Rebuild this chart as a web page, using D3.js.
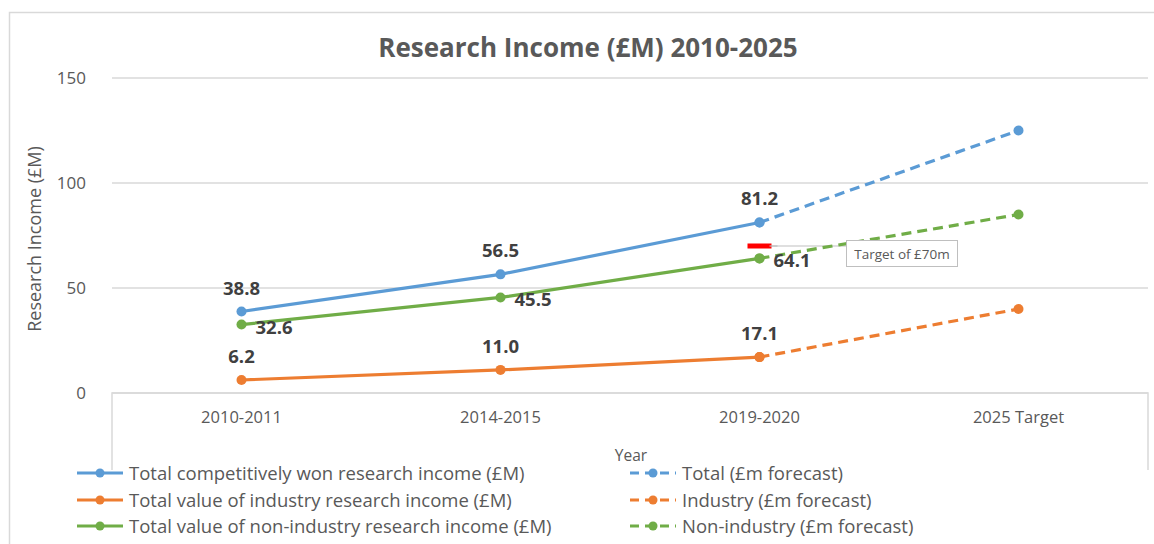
<!DOCTYPE html>
<html><head><meta charset="utf-8">
<script src="https://cdn.jsdelivr.net/npm/d3@7"></script>
<style>body{margin:0;background:#fff}svg{display:block}text{font-family:"Open Sans",sans-serif}</style>
</head><body><svg id="c" width="1154" height="544"></svg>
<script>
const categories = ["2010-2011","2014-2015","2019-2020","2025 Target"];
const totalIncome = [38.8, 56.5, 81.2, null];
const industryIncome = [6.2, 11.0, 17.1, null];
const nonIndustryIncome = [32.6, 45.5, 64.1, null];
const totalForecast = [null, null, 81.2, 125];
const industryForecast = [null, null, 17.1, 40];
const nonIndustryForecast = [null, null, 64.1, 85];
const yTicks = [0, 50, 100, 150];
const targetValue = 70;
const targetCategory = "2019-2020";

const svg = d3.select("#c");
const L = 112, R = 1148, T = 78, B = 393;
const x = d3.scaleBand().domain(categories).range([L, R]);
const y = d3.scaleLinear().domain([0, 150]).range([B, T]);
const cx = c => x(c) + x.bandwidth() / 2;

// outer chart border
svg.append("path").attr("d", `M9.5,544V12.5H1160`).attr("fill","none").attr("stroke","#d9d9d9").attr("stroke-width",1.5);

// title
svg.append("text").attr("x", 588).attr("y", 57).attr("text-anchor","middle")
  .attr("font-size", 26).attr("font-weight","bold").attr("fill","#595959")
  .text("Research Income (£M) 2010-2025");

// gridlines
svg.append("g").selectAll("line").data(yTicks).join("line")
  .attr("x1", L).attr("x2", R).attr("y1", d => y(d)).attr("y2", d => y(d))
  .attr("stroke", "#d9d9d9").attr("stroke-width", 1.5);

// y axis labels
const yAxis = d3.axisLeft(y).tickValues(yTicks).tickSize(0).tickPadding(26);
const ya = svg.append("g").attr("transform", `translate(${L},0)`).call(yAxis);
ya.select(".domain").remove();
ya.selectAll("text").attr("font-size", 17).attr("fill", "#595959").attr("font-family","Open Sans");

// y axis title
svg.append("text").attr("transform", "translate(41,239) rotate(-90)").attr("text-anchor","middle")
  .attr("font-size", 18).attr("fill","#595959").text("Research Income (£M)");

// x axis box
svg.append("path").attr("d", `M${L},470V${B}H${R}V470`).attr("fill","none").attr("stroke","#d9d9d9").attr("stroke-width",1.5);
const xAxis = d3.axisBottom(x).tickSize(0).tickPadding(18);
const xa = svg.append("g").attr("transform", `translate(0,${B})`).call(xAxis);
xa.select(".domain").remove();
xa.selectAll("text").attr("font-size", 16.5).attr("fill", "#595959").attr("font-family","Open Sans");

// x axis title
svg.append("text").attr("x", 631).attr("y", 461).attr("text-anchor","middle")
  .attr("font-size", 15.5).attr("fill","#595959").text("Year");

const blue = "#5b9bd5", orange = "#ed7d31", green = "#70ad47";
const series = [
  {vals: totalIncome, color: blue, dash: null},
  {vals: industryIncome, color: orange, dash: null},
  {vals: nonIndustryIncome, color: green, dash: null},
  {vals: totalForecast, color: blue, dash: "10,6"},
  {vals: industryForecast, color: orange, dash: "10,6"},
  {vals: nonIndustryForecast, color: green, dash: "10,6"}
];
const line = d3.line().defined(d => d.v != null).x(d => cx(d.c)).y(d => y(d.v));

// target marker + callout
const tx = cx(targetCategory), ty = y(targetValue);
svg.append("line").attr("x1", tx + 10).attr("x2", 846).attr("y1", ty).attr("y2", ty)
  .attr("stroke", "#bfbfbf").attr("stroke-width", 1.2);

series.forEach(s => {
  const pts = categories.map((c, i) => ({c, v: s.vals[i]}));
  svg.append("path").datum(pts).attr("d", line).attr("fill","none")
    .attr("stroke", s.color).attr("stroke-width", 3.2).attr("stroke-linecap", s.dash ? "butt" : "round")
    .attr("stroke-dasharray", s.dash);
  svg.append("g").selectAll("circle").data(pts.filter(d => d.v != null)).join("circle")
    .attr("cx", d => cx(d.c)).attr("cy", d => y(d.v)).attr("r", 5).attr("fill", s.color);
});

svg.append("rect").attr("x", tx - 12).attr("y", ty - 2.5).attr("width", 24).attr("height", 5).attr("fill", "#ff0000");
svg.append("line").attr("x1", tx + 10).attr("x2", tx + 18).attr("y1", ty).attr("y2", ty)
  .attr("stroke", "#bfbfbf").attr("stroke-width", 1.2);
svg.append("rect").attr("x", 846.5).attr("y", 240.5).attr("width", 111).attr("height", 26)
  .attr("fill","#fff").attr("stroke","#bfbfbf").attr("stroke-width",1);
svg.append("text").attr("x", 902).attr("y", 259).attr("text-anchor","middle")
  .attr("font-size", 13.5).attr("fill","#595959").text("Target of £" + targetValue + "m");

// data labels
const lab = svg.append("g").attr("font-size", 18.5).attr("font-weight","bold").attr("fill","#404040");
categories.forEach((c, i) => {
  if (totalIncome[i] != null) lab.append("text").attr("x", cx(c)).attr("y", y(totalIncome[i]) - 17).attr("text-anchor","middle").text(totalIncome[i].toFixed(1));
  if (industryIncome[i] != null) lab.append("text").attr("x", cx(c)).attr("y", y(industryIncome[i]) - 17).attr("text-anchor","middle").text(industryIncome[i].toFixed(1));
  if (nonIndustryIncome[i] != null) lab.append("text").attr("x", cx(c) + 14).attr("y", y(nonIndustryIncome[i]) + 9).attr("text-anchor","start").text(nonIndustryIncome[i].toFixed(1));
});

// legend
const legendItems = [
  {label: "Total competitively won research income (£M)", color: blue, dash: null, x: 77, y: 473},
  {label: "Total value of industry research income (£M)", color: orange, dash: null, x: 77, y: 500},
  {label: "Total value of non-industry research income (£M)", color: green, dash: null, x: 77, y: 526},
  {label: "Total (£m forecast)", color: blue, dash: "9,6", x: 630, y: 473},
  {label: "Industry (£m forecast)", color: orange, dash: "9,6", x: 630, y: 500},
  {label: "Non-industry (£m forecast)", color: green, dash: "9,6", x: 630, y: 526}
];
const lg = svg.append("g");
legendItems.forEach(it => {
  const g = lg.append("g").attr("transform", `translate(${it.x},${it.y})`);
  g.append("line").attr("x1", 0).attr("x2", 46).attr("y1", 0).attr("y2", 0)
    .attr("stroke", it.color).attr("stroke-width", 3).attr("stroke-dasharray", it.dash);
  g.append("circle").attr("cx", 23).attr("cy", 0).attr("r", 4.5).attr("fill", it.color);
  g.append("text").attr("x", 52).attr("y", 6.5).attr("font-size", 18.5).attr("fill","#595959").text(it.label);
});
</script></body></html>
